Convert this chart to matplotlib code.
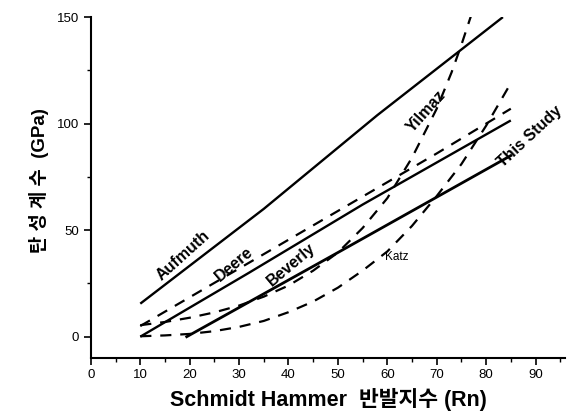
import numpy as np
import matplotlib
matplotlib.use("Agg")
import matplotlib.pyplot as plt
from matplotlib.ticker import MultipleLocator

FONTS = ["Liberation Sans", "Noto Sans CJK KR", "DejaVu Sans"]
plt.rcParams["font.family"] = FONTS

# values (Rn, GPa)
aufmuth_x = [10, 35, 58, 83.4]
aufmuth_y = [15.5, 60, 104, 150]

deere_x = [10, 30, 50, 70, 85]
deere_y = [5, 32, 59, 86, 107]

beverly_x = [10, 32, 55, 85]
beverly_y = [0, 30, 62, 101.5]

study_x = [19.4, 50, 85]
study_y = [0, 39.5, 85]

yilmaz_x = [10, 15, 20, 25, 30, 35, 40, 45, 50, 55, 60, 65, 70, 73, 75, 77]
yilmaz_y = [5.4, 6.9, 8.9, 11.4, 14.6, 18.8, 24, 31, 39.5, 51, 65, 84, 107,
            124, 137, 151]

katz_x = [10, 15, 20, 25, 30, 35, 40, 45, 50, 55, 60, 65, 70, 75, 80, 85]
katz_y = [0.2, 0.6, 1.3, 2.6, 4.6, 7.4, 11.5, 16.5, 23, 31, 40, 52, 66, 81,
          99, 119]

labels = ["Aufmuth", "Deere", "Beverly", "Yilmaz", "This Study", "Katz"]
label_x = [18.6, 29.0, 40.5, 67.9, 88.9, 62.0]
label_y = [38, 34, 34, 106, 94, 37.5]
label_rot = [42, 40, 40, 48, 43, 0]


def main():
    fig = plt.figure(figsize=(5.68, 4.17), dpi=100)
    ax = fig.add_axes([0.160, 0.1415, 0.835, 0.8175])

    solid = dict(color="black", lw=1.7, solid_capstyle="butt")
    dashed = dict(color="black", lw=1.6, ls=(0, (5, 4)))
    ax.plot(aufmuth_x, aufmuth_y, **solid)
    ax.plot(beverly_x, beverly_y, **solid)
    ax.plot(study_x, study_y, lw=2.0, color="black")
    ax.plot(deere_x, deere_y, **dashed)
    ax.plot(yilmaz_x, yilmaz_y, **dashed)
    ax.plot(katz_x, katz_y, **dashed)

    for t, x, y, r in zip(labels, label_x, label_y, label_rot):
        small = t == "Katz"
        ax.text(x, y, t, rotation=r, ha="center", va="center",
                fontsize=8.5 if small else 11.5,
                fontweight="normal" if small else "bold",
                rotation_mode="anchor")

    ax.set_xlim(0, 96)
    ax.set_ylim(-10, 150)
    ax.xaxis.set_major_locator(MultipleLocator(10))
    ax.xaxis.set_minor_locator(MultipleLocator(5))
    ax.yaxis.set_major_locator(MultipleLocator(50))
    ax.yaxis.set_minor_locator(MultipleLocator(25))
    ax.set_xticks(range(0, 91, 10))
    ax.set_yticks([0, 50, 100, 150])
    ax.tick_params(which="major", direction="out", length=5, width=1.2,
                   labelsize=9.5)
    ax.tick_params(which="minor", direction="out", length=3, width=1.0)
    ax.tick_params(axis="x", pad=3)

    for s in ["top", "right"]:
        ax.spines[s].set_visible(False)
    for s in ["left", "bottom"]:
        ax.spines[s].set_linewidth(1.5)

    ax.set_xlabel("Schmidt Hammer  반발지수 (Rn)", fontsize=15.5,
                  fontweight="bold", labelpad=5)
    ax.set_ylabel("탄 성 계 수  (GPa)", fontsize=13.5, fontweight="bold")
    ax.yaxis.set_label_coords(-0.088, 0.52)

    fig.savefig("out.png", dpi=100)
    plt.close(fig)


if __name__ == "__main__":
    main()
